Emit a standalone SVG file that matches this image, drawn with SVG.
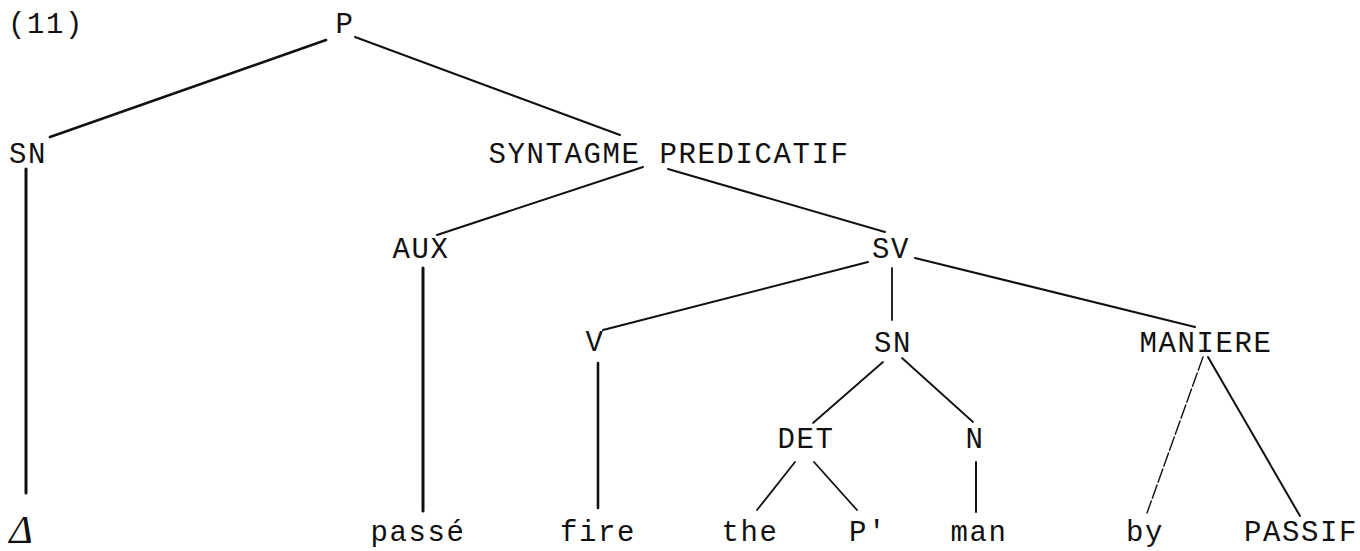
<svg xmlns="http://www.w3.org/2000/svg" width="1360" height="551" viewBox="0 0 1360 551">
<style>
.t{font-family:"Liberation Mono","DejaVu Sans Mono",monospace;font-size:29px;letter-spacing:1.6px;fill:#111;text-anchor:middle}
.d{font-family:"Liberation Serif","DejaVu Serif",serif;font-style:italic;font-size:40px;fill:#111;text-anchor:middle}
.e line{stroke:#111;stroke-linecap:round}
</style>
<rect width="1360" height="551" fill="#fff"/>
<g id="edges" class="e">
<line x1="326" y1="40" x2="50" y2="137" stroke-width="2.6"/>
<line x1="355" y1="37" x2="620" y2="135" stroke-width="2"/>
<line x1="26" y1="169" x2="26" y2="493" stroke-width="3"/>
<line x1="643" y1="167" x2="437" y2="235" stroke-width="2"/>
<line x1="668" y1="169" x2="885" y2="232" stroke-width="2"/>
<line x1="423" y1="268" x2="423" y2="511" stroke-width="3"/>
<line x1="868" y1="262" x2="603" y2="330" stroke-width="2"/>
<line x1="892" y1="268" x2="892" y2="320" stroke-width="1.8"/>
<line x1="915" y1="258" x2="1195" y2="327" stroke-width="2"/>
<line x1="598" y1="363" x2="598" y2="508" stroke-width="2.6"/>
<line x1="883" y1="362" x2="813" y2="423" stroke-width="1.8"/>
<line x1="902" y1="358" x2="973" y2="422" stroke-width="1.8"/>
<line x1="1203" y1="357" x2="1147" y2="513" stroke-width="1.4" stroke-dasharray="14 3"/>
<line x1="1208" y1="357" x2="1300" y2="516" stroke-width="2"/>
<line x1="795" y1="462" x2="757" y2="510" stroke-width="1.8"/>
<line x1="814" y1="462" x2="857" y2="510" stroke-width="1.8"/>
<line x1="976" y1="462" x2="976" y2="512" stroke-width="2"/>
</g>
<g id="label11"><text class="t" x="46" y="33">(11)</text></g>
<g id="n-P"><text class="t" x="345" y="33">P</text></g>
<g id="n-SN1"><text class="t" x="28" y="163">SN</text></g>
<g id="n-SP"><text class="t" x="669" y="163">SYNTAGME PREDICATIF</text></g>
<g id="n-AUX"><text class="t" x="421" y="258">AUX</text></g>
<g id="n-SV"><text class="t" x="891" y="258">SV</text></g>
<g id="n-V"><text class="t" x="595" y="351">V</text></g>
<g id="n-SN2"><text class="t" x="893" y="352">SN</text></g>
<g id="n-MANIERE"><text class="t" x="1206" y="352">MANIERE</text></g>
<g id="n-DET"><text class="t" x="806" y="448">DET</text></g>
<g id="n-N"><text class="t" x="975" y="448">N</text></g>
<g id="n-delta"><text class="d" x="21" y="543">Δ</text></g>
<g id="n-passe"><text class="t" x="418" y="541">passé</text></g>
<g id="n-fire"><text class="t" x="598" y="541">fire</text></g>
<g id="n-the"><text class="t" x="750" y="541">the</text></g>
<g id="n-Pprime"><text class="t" x="868" y="541">P'</text></g>
<g id="n-man"><text class="t" x="979" y="541">man</text></g>
<g id="n-by"><text class="t" x="1145" y="541">by</text></g>
<g id="n-PASSIF"><text class="t" x="1301" y="541">PASSIF</text></g>
</svg>
